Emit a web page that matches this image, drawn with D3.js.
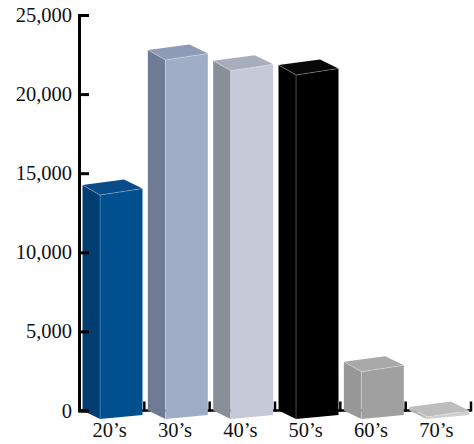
<!DOCTYPE html>
<html>
<head>
<meta charset="utf-8">
<script src="https://cdn.jsdelivr.net/npm/d3@7"></script>
<style>
  html, body { margin: 0; padding: 0; background: #fff; }
  svg { display: block; }
  text { font-family: "Liberation Serif", "Times New Roman", serif; fill: #111; }
</style>
</head>
<body>
<svg id="chart" width="474" height="444"></svg>
<script>
const categories = ["20\u2019s", "30\u2019s", "40\u2019s", "50\u2019s", "60\u2019s", "70\u2019s"];
const values = [14250, 22790, 22110, 21840, 3080, 220];
const yTicks = [0, 5000, 10000, 15000, 20000, 25000];
const frontColors = ["#00508f", "#a0adc6", "#c6cad8", "#000000", "#a0a0a0", "#cfcfcf"];
const sideColors  = ["#003e72", "#6f7b94", "#8a8e98", "#000000", "#989898", "#b5b5b5"];
const topColors   = ["#0a4c88", "#8e9bb6", "#a8adbc", "#080808", "#a9a9a9", "#bdbdbd"];

const svg = d3.select("#chart");
const x = d3.scaleBand().domain(categories).range([79, 471]).padding(0);
const y = d3.scaleLinear().domain([0, 25000]).range([410.5, 15]);
const bw = x.bandwidth();
const B = y(0);

// baseline and category boundary ticks (behind bars)
svg.append("line")
  .attr("x1", 79).attr("x2", 471).attr("y1", B).attr("y2", B)
  .attr("stroke", "#000").attr("stroke-width", 2.5);
svg.selectAll("line.xt").data(categories).enter().append("line")
  .attr("class", "xt")
  .attr("x1", d => x(d) + bw).attr("x2", d => x(d) + bw)
  .attr("y1", B + 1).attr("y2", B - 9)
  .attr("stroke", "#000").attr("stroke-width", 2.5);

// 3D bars
const geo = {bl: 0.054, fl: 0.322, br: 0.689, fr: 0.972};
const g = svg.append("g");
categories.forEach((c, i) => {
  const x0 = x(c);
  const Y = y(values[i]);
  const xbl = x0 + geo.bl * bw, xfl = x0 + geo.fl * bw, xbr = x0 + geo.br * bw, xfr = x0 + geo.fr * bw;
  const edge = i === 3 ? "rgba(255,255,255,0.35)" : "rgba(255,255,255,0.35)";
  const bar = g.append("g");
  // left side face
  bar.append("polygon")
    .attr("points", [[xbl, Y], [xfl, Y + 10], [xfl, B + 8.5], [xbl, B]].map(p => p.join(",")).join(" "))
    .attr("fill", sideColors[i]);
  // front face
  bar.append("polygon")
    .attr("points", [[xfl, Y + 10], [xfr, Y + 3.5], [xfr, B + 4.5], [xfl, B + 8.5]].map(p => p.join(",")).join(" "))
    .attr("fill", frontColors[i]);
  // top face
  bar.append("polygon")
    .attr("points", [[xbl, Y], [xbr, Y - 5.5], [xfr, Y + 3.5], [xfl, Y + 10]].map(p => p.join(",")).join(" "))
    .attr("fill", topColors[i]);
  // faint edges
  bar.append("polyline")
    .attr("points", [[xbl, Y], [xfl, Y + 10], [xfr, Y + 3.5]].map(p => p.join(",")).join(" "))
    .attr("fill", "none").attr("stroke", edge).attr("stroke-width", 0.8);
  bar.append("line")
    .attr("x1", xfl).attr("x2", xfl).attr("y1", Y + 10).attr("y2", B + 8.5)
    .attr("stroke", edge).attr("stroke-width", 0.8);
});

// y axis
const yAxis = d3.axisLeft(y).tickValues(yTicks).tickSize(-10).tickPadding(7)
  .tickFormat(d3.format(","));
const ya = svg.append("g").attr("transform", "translate(79,0)").call(yAxis);
ya.select(".domain").attr("stroke", "#000").attr("stroke-width", 3);
ya.selectAll(".tick line").attr("stroke", "#000").attr("stroke-width", 3);
ya.selectAll(".tick text")
  .style("font-family", "'Liberation Serif', serif")
  .style("font-size", "20.5px").attr("fill", "#111");

// category labels
svg.selectAll("text.cat").data(categories).enter().append("text")
  .attr("class", "cat")
  .attr("x", d => x(d) + bw / 2 - 2)
  .attr("y", 437)
  .attr("text-anchor", "middle")
  .style("font-size", "20.5px")
  .text(d => d);
</script>
</body>
</html>
